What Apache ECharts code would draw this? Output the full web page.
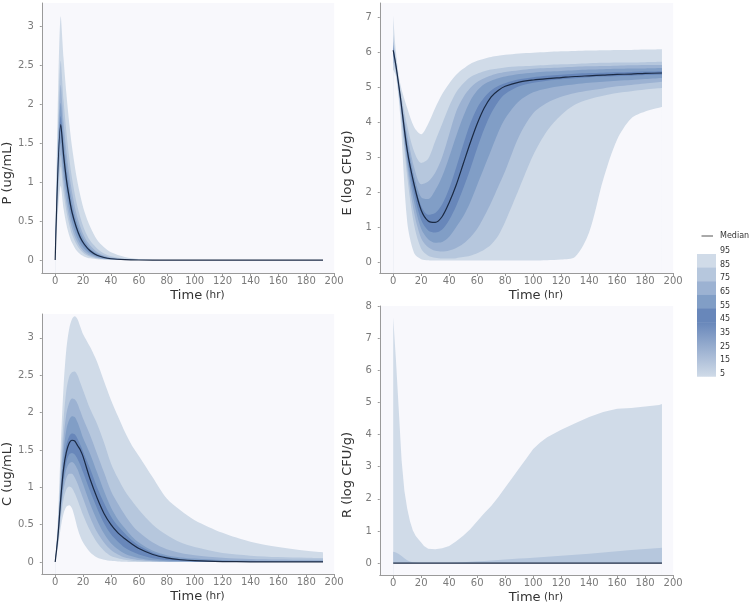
<!DOCTYPE html>
<html>
<head>
<meta charset="utf-8">
<script src="https://cdn.jsdelivr.net/npm/echarts@6/dist/echarts.min.js"></script>
<style>
  html, body { margin: 0; padding: 0; background: #fff; }
  #chart { width: 750px; height: 609px; }
</style>
</head>
<body>
<div id="chart"></div>
<script>
//************** Data: percentile bands per panel *****************/

// P (ug/mL)
const P_time = [0, 4, 6, 8, 10, 12, 15, 18, 21, 25, 30, 35, 40, 50, 60, 80, 120, 192];
const P_p95 = [0, 3.13, 2.59, 2.14, 1.77, 1.46, 1.10, 0.83, 0.62, 0.43, 0.26, 0.165, 0.10, 0.04, 0.015, 0.002, 0, 0];
const P_p85 = [0, 2.56, 2.05, 1.65, 1.32, 1.06, 0.76, 0.55, 0.39, 0.25, 0.15, 0.085, 0.049, 0.016, 0.005, 0, 0, 0];
const P_p75 = [0, 2.25, 1.78, 1.40, 1.11, 0.88, 0.61, 0.43, 0.30, 0.19, 0.105, 0.058, 0.032, 0.01, 0.003, 0, 0, 0];
const P_p65 = [0, 2.02, 1.58, 1.23, 0.97, 0.75, 0.52, 0.36, 0.25, 0.15, 0.083, 0.045, 0.024, 0.007, 0.002, 0, 0, 0];
const P_p55 = [0, 1.85, 1.44, 1.11, 0.86, 0.67, 0.46, 0.31, 0.21, 0.13, 0.068, 0.036, 0.019, 0.005, 0.001, 0, 0, 0];
const P_med = [0, 1.74, 1.35, 1.04, 0.81, 0.62, 0.43, 0.29, 0.20, 0.12, 0.062, 0.033, 0.017, 0.005, 0.001, 0, 0, 0];
const P_p45 = [0, 1.65, 1.27, 0.97, 0.75, 0.57, 0.39, 0.26, 0.175, 0.10, 0.053, 0.028, 0.014, 0.004, 0.001, 0, 0, 0];
const P_p35 = [0, 1.50, 1.13, 0.86, 0.65, 0.49, 0.32, 0.21, 0.14, 0.08, 0.039, 0.02, 0.01, 0.003, 0.001, 0, 0, 0];
const P_p25 = [0, 1.35, 1.00, 0.74, 0.55, 0.41, 0.26, 0.165, 0.105, 0.058, 0.027, 0.013, 0.006, 0.002, 0, 0, 0, 0];
const P_p15 = [0, 1.20, 0.87, 0.63, 0.46, 0.33, 0.21, 0.13, 0.079, 0.042, 0.019, 0.008, 0.004, 0.001, 0, 0, 0, 0];
const P_p05 = [0, 0.95, 0.66, 0.46, 0.32, 0.225, 0.13, 0.076, 0.044, 0.022, 0.009, 0.004, 0.002, 0, 0, 0, 0, 0];

// E (log CFU/g)
const E_time = [0, 2, 5, 10, 15, 20, 25, 30, 35, 40, 45, 50, 55, 60, 65, 70, 75, 80, 90, 100, 110, 120, 130, 140, 150, 160, 170, 180, 192];
const E_p95 = [7.05, 6.0, 5.1, 4.4, 3.85, 3.65, 3.95, 4.4, 4.8, 5.1, 5.35, 5.52, 5.66, 5.75, 5.81, 5.86, 5.89, 5.92, 5.96, 5.98, 6.0, 6.02, 6.03, 6.04, 6.05, 6.06, 6.06, 6.07, 6.08];
const E_p85 = [6.5, 5.75, 4.95, 3.9, 3.15, 2.83, 2.95, 3.45, 3.95, 4.45, 4.85, 5.1, 5.28, 5.38, 5.45, 5.5, 5.53, 5.56, 5.59, 5.61, 5.63, 5.65, 5.66, 5.68, 5.69, 5.7, 5.7, 5.71, 5.72];
const E_p75 = [6.3, 5.7, 4.85, 3.65, 2.7, 2.22, 2.3, 2.55, 3.0, 3.65, 4.3, 4.7, 4.97, 5.14, 5.25, 5.33, 5.39, 5.43, 5.48, 5.52, 5.54, 5.56, 5.58, 5.59, 5.6, 5.61, 5.62, 5.63, 5.63];
const E_p65 = [6.2, 5.65, 4.8, 3.48, 2.45, 1.85, 1.8, 2.05, 2.45, 3.0, 3.6, 4.15, 4.6, 4.9, 5.08, 5.18, 5.25, 5.3, 5.37, 5.41, 5.44, 5.46, 5.48, 5.5, 5.51, 5.52, 5.53, 5.53, 5.54];
const E_p55 = [6.12, 5.62, 4.78, 3.32, 2.3, 1.6, 1.35, 1.4, 1.65, 2.1, 2.7, 3.35, 3.95, 4.4, 4.7, 4.9, 5.03, 5.11, 5.22, 5.28, 5.32, 5.35, 5.38, 5.4, 5.41, 5.42, 5.43, 5.44, 5.45];
const E_med = [6.05, 5.6, 4.75, 3.2, 2.2, 1.48, 1.17, 1.13, 1.3, 1.7, 2.2, 2.8, 3.4, 3.95, 4.4, 4.72, 4.9, 5.02, 5.14, 5.2, 5.24, 5.27, 5.3, 5.32, 5.34, 5.36, 5.37, 5.39, 5.4];
const E_p45 = [6.0, 5.55, 4.7, 3.05, 1.95, 1.2, 0.9, 0.84, 0.93, 1.2, 1.6, 2.1, 2.65, 3.25, 3.8, 4.25, 4.58, 4.8, 5.02, 5.12, 5.18, 5.22, 5.25, 5.28, 5.3, 5.31, 5.32, 5.34, 5.35];
const E_p35 = [5.95, 5.5, 4.6, 2.9, 1.7, 0.95, 0.65, 0.55, 0.57, 0.72, 1.0, 1.3, 1.7, 2.2, 2.7, 3.2, 3.7, 4.1, 4.6, 4.85, 4.96, 5.03, 5.08, 5.12, 5.15, 5.18, 5.2, 5.23, 5.26];
const E_p25 = [5.85, 5.45, 4.5, 2.7, 1.4, 0.68, 0.42, 0.32, 0.3, 0.33, 0.4, 0.52, 0.7, 0.95, 1.3, 1.7, 2.15, 2.6, 3.6, 4.25, 4.55, 4.72, 4.83, 4.9, 4.96, 5.02, 5.06, 5.1, 5.15];
const E_p15 = [5.7, 5.4, 4.4, 2.45, 1.05, 0.38, 0.18, 0.12, 0.1, 0.1, 0.11, 0.14, 0.18, 0.25, 0.35, 0.5, 0.75, 1.15, 2.1, 3.05, 3.75, 4.2, 4.5, 4.65, 4.75, 4.83, 4.88, 4.93, 4.97];
const E_p05 = [5.5, 5.3, 4.2, 1.15, 0.25, 0.08, 0.05, 0.04, 0.04, 0.04, 0.04, 0.04, 0.04, 0.04, 0.04, 0.04, 0.04, 0.04, 0.04, 0.04, 0.05, 0.07, 0.15, 0.85, 2.35, 3.5, 4.1, 4.3, 4.43];

// C (ug/mL)
const C_time = [0, 2, 4, 6, 8, 10, 12, 14, 16, 18, 20, 25, 30, 35, 40, 45, 50, 55, 60, 70, 80, 90, 100, 120, 140, 160, 180, 192];
const C_p95 = [0, 0.6, 1.55, 2.35, 2.85, 3.12, 3.25, 3.29, 3.25, 3.15, 3.05, 2.88, 2.68, 2.42, 2.17, 1.95, 1.74, 1.56, 1.42, 1.13, 0.85, 0.69, 0.56, 0.39, 0.27, 0.2, 0.15, 0.13];
const C_p85 = [0, 0.5, 1.25, 1.9, 2.3, 2.48, 2.54, 2.55, 2.5, 2.4, 2.3, 2.05, 1.85, 1.6, 1.32, 1.12, 0.95, 0.82, 0.7, 0.5, 0.36, 0.26, 0.2, 0.12, 0.085, 0.065, 0.055, 0.05];
const C_p75 = [0, 0.45, 1.1, 1.65, 1.98, 2.13, 2.19, 2.18, 2.12, 2.02, 1.92, 1.7, 1.45, 1.2, 0.95, 0.78, 0.63, 0.5, 0.4, 0.26, 0.17, 0.12, 0.09, 0.055, 0.04, 0.033, 0.03, 0.03];
const C_p65 = [0, 0.4, 1.0, 1.48, 1.77, 1.9, 1.95, 1.94, 1.87, 1.77, 1.66, 1.45, 1.2, 0.95, 0.73, 0.57, 0.45, 0.34, 0.26, 0.15, 0.09, 0.06, 0.045, 0.025, 0.015, 0.01, 0.01, 0.01];
const C_p55 = [0, 0.37, 0.9, 1.32, 1.57, 1.68, 1.72, 1.71, 1.65, 1.57, 1.48, 1.25, 1.0, 0.79, 0.61, 0.48, 0.38, 0.29, 0.22, 0.125, 0.07, 0.04, 0.025, 0.01, 0.005, 0.003, 0.002, 0.002];
const C_med = [0, 0.35, 0.85, 1.25, 1.47, 1.59, 1.63, 1.62, 1.56, 1.5, 1.41, 1.11, 0.86, 0.65, 0.5, 0.39, 0.31, 0.24, 0.18, 0.1, 0.055, 0.03, 0.017, 0.006, 0.002, 0.001, 0, 0];
const C_p45 = [0, 0.32, 0.78, 1.13, 1.34, 1.44, 1.46, 1.44, 1.38, 1.3, 1.2, 0.95, 0.72, 0.52, 0.37, 0.27, 0.19, 0.14, 0.1, 0.05, 0.025, 0.013, 0.007, 0.002, 0, 0, 0, 0];
const C_p35 = [0, 0.3, 0.72, 1.05, 1.24, 1.32, 1.34, 1.31, 1.24, 1.14, 1.04, 0.78, 0.56, 0.38, 0.25, 0.17, 0.11, 0.075, 0.05, 0.022, 0.01, 0.005, 0.002, 0, 0, 0, 0, 0];
const C_p25 = [0, 0.28, 0.66, 0.96, 1.12, 1.18, 1.18, 1.13, 1.05, 0.95, 0.85, 0.6, 0.4, 0.26, 0.16, 0.1, 0.06, 0.04, 0.025, 0.01, 0.004, 0.002, 0, 0, 0, 0, 0, 0];
const C_p15 = [0, 0.25, 0.58, 0.84, 0.97, 1.01, 0.99, 0.92, 0.83, 0.73, 0.63, 0.42, 0.26, 0.15, 0.08, 0.05, 0.03, 0.017, 0.01, 0.004, 0.001, 0, 0, 0, 0, 0, 0, 0];
const C_p05 = [0, 0.2, 0.46, 0.65, 0.74, 0.76, 0.72, 0.6, 0.45, 0.34, 0.26, 0.13, 0.06, 0.03, 0.015, 0.007, 0.003, 0, 0, 0, 0, 0, 0, 0, 0, 0, 0, 0];

// R (log CFU/g) - everything at or below the 75th percentile sits on 0
const R_time = [0, 2, 4, 6, 8, 10, 12, 14, 16, 18, 20, 22, 25, 30, 35, 40, 45, 50, 55, 60, 65, 70, 75, 80, 85, 90, 95, 100, 105, 110, 120, 130, 140, 150, 160, 170, 180, 190, 192];
const R_p95 = [7.65, 6.3, 4.75, 3.2, 2.25, 1.7, 1.3, 1.02, 0.85, 0.74, 0.64, 0.53, 0.45, 0.43, 0.46, 0.53, 0.68, 0.85, 1.05, 1.3, 1.55, 1.78, 2.05, 2.35, 2.65, 2.95, 3.25, 3.55, 3.75, 3.92, 4.15, 4.35, 4.55, 4.7, 4.8, 4.83, 4.87, 4.92, 4.95];
const R_p85 = [0.35, 0.33, 0.28, 0.22, 0.15, 0.09, 0.05, 0.03, 0.02, 0.015, 0.01, 0.01, 0.01, 0.01, 0.012, 0.015, 0.02, 0.03, 0.04, 0.055, 0.065, 0.08, 0.095, 0.11, 0.125, 0.14, 0.155, 0.17, 0.185, 0.2, 0.23, 0.26, 0.29, 0.33, 0.37, 0.41, 0.44, 0.47, 0.48];
const R_low = [0, 0, 0, 0, 0, 0, 0, 0, 0, 0, 0, 0, 0, 0, 0, 0, 0, 0, 0, 0, 0, 0, 0, 0, 0, 0, 0, 0, 0, 0, 0, 0, 0, 0, 0, 0, 0, 0, 0];

// legend tick labels
const legendLabels = ['95', '85', '75', '65', '55', '45', '35', '25', '15', '5'];
const xTicks = [0, 20, 40, 60, 80, 100, 120, 140, 160, 180, 200];

///*********** Styles ***************///

const bandColors = ['#d0dbe8', '#b6c7dd', '#9cb2d2', '#819ec6', '#6887ba'];
const plotBg = '#f8f8fc';
const medianColor = '#1b2a44';
const axisColor = '#9a9a9a';
const labelColor = '#7a7a7a';
const font = 'DejaVu Sans';

const panels = [
  { name: 'P (ug/mL)', time: P_time, med: P_med, smooth: 0.3,
    pct: [P_p05, P_p15, P_p25, P_p35, P_p45, P_p55, P_p65, P_p75, P_p85, P_p95],
    grid: { left: 40.76, top: 3, width: 293.4, height: 270 },
    yMin: -0.166, yMax: 3.3, yTicks: [0, 0.5, 1, 1.5, 2, 2.5, 3], namePad: 70 },
  { name: 'E (log CFU/g)', time: E_time, med: E_med, smooth: 0.3,
    pct: [E_p05, E_p15, E_p25, E_p35, E_p45, E_p55, E_p65, E_p75, E_p85, E_p95],
    grid: { left: 379.76, top: 3, width: 293.4, height: 270 },
    yMin: -0.314, yMax: 7.4, yTicks: [0, 1, 2, 3, 4, 5, 6, 7], namePad: 70 },
  { name: 'C (ug/mL)', time: C_time, med: C_med, smooth: 0.3,
    pct: [C_p05, C_p15, C_p25, C_p35, C_p45, C_p55, C_p65, C_p75, C_p85, C_p95],
    grid: { left: 40.76, top: 314, width: 293.4, height: 260 },
    yMin: -0.161, yMax: 3.32, yTicks: [0, 0.5, 1, 1.5, 2, 2.5, 3], namePad: 60 },
  { name: 'R (log CFU/g)', time: R_time, med: R_low, smooth: false,
    pct: [R_low, R_low, R_low, R_low, R_low, R_low, R_low, R_low, R_p85, R_p95],
    grid: { left: 379.76, top: 306, width: 293.4, height: 269 },
    yMin: -0.37, yMax: 8, yTicks: [0, 1, 2, 3, 4, 5, 6, 7, 8], namePad: 69 }
];

///*********** Build options ***************///

// percentile curves are layered top-down, each filled to the bottom of the plot;
// index into pct (0 = p05 ... 9 = p95) and the colour each one paints below itself
const layerOrder = [9, 8, 7, 6, 5, 4, 3, 2, 1, 0];
const layerColor = [bandColors[0], bandColors[1], bandColors[2], bandColors[3], bandColors[4],
                    bandColors[3], bandColors[2], bandColors[1], bandColors[0], plotBg];

const grids = [], xAxes = [], yAxes = [], series = [];

panels.forEach(function (p, i) {
  grids.push(Object.assign({ show: true, backgroundColor: plotBg, borderWidth: 0 }, p.grid));

  xAxes.push({
    type: 'value', gridIndex: i, min: -9.6, max: 200, z: 10,
    axisLine: { show: true, onZero: false, lineStyle: { color: axisColor } },
    axisTick: { show: true, customValues: xTicks, length: 3, lineStyle: { color: axisColor } },
    axisLabel: { customValues: xTicks, color: labelColor, fontSize: 10, fontFamily: font, margin: 3 },
    splitLine: { show: false },
    name: '{a|Time} {b|(hr)}', nameLocation: 'middle', nameGap: 16,
    nameTextStyle: {
      padding: [0, 0, 0, 19],
      rich: {
        a: { fontSize: 13, color: '#333', fontFamily: font },
        b: { fontSize: 10.5, color: '#333', fontFamily: font }
      }
    }
  });

  yAxes.push({
    type: 'value', gridIndex: i, min: p.yMin, max: p.yMax, z: 10,
    axisLine: { show: true, onZero: false, lineStyle: { color: axisColor } },
    axisTick: { show: true, customValues: p.yTicks, length: 2, lineStyle: { color: axisColor } },
    axisLabel: { customValues: p.yTicks, color: labelColor, fontSize: 10, fontFamily: font, margin: 8 },
    splitLine: { show: false },
    name: p.name, nameLocation: 'middle', nameGap: 26,
    nameTextStyle: { fontSize: 13, color: '#333', fontFamily: font, padding: [0, p.namePad, 0, 0] }
  });

  layerOrder.forEach(function (idx, k) {
    const vals = p.pct[idx];
    series.push({
      type: 'line', xAxisIndex: i, yAxisIndex: i, silent: true,
      symbol: 'none', smooth: p.smooth, lineStyle: { width: 0 },
      areaStyle: { color: layerColor[k], opacity: 1, origin: 'start' },
      data: p.time.map(function (t, j) { return [t, vals[j]]; })
    });
  });

  series.push({
    type: 'line', xAxisIndex: i, yAxisIndex: i, silent: true, symbol: 'none',
    smooth: p.smooth, lineStyle: { color: medianColor, width: 1.2 },
    data: p.time.map(function (t, j) { return [t, p.med[j]]; })
  });
});

///*********** Legend (drawn) ***************///

const legendX = 697, legendTop = 254, segH = 13.65, legendW = 19;
const legendItems = [
  { type: 'line', shape: { x1: 701.5, y1: 236, x2: 713, y2: 236 }, style: { stroke: '#555', lineWidth: 1 } },
  { type: 'text', style: { x: 720, y: 236, text: 'Median', fill: '#333', fontSize: 8, fontFamily: font, verticalAlign: 'middle' } }
];
for (let k = 0; k < 5; k++) {
  legendItems.push({
    type: 'rect', shape: { x: legendX, y: legendTop + segH * k, width: legendW, height: segH + 0.5 },
    style: { fill: bandColors[k] }
  });
}
legendItems.push({
  type: 'rect', shape: { x: legendX, y: legendTop + segH * 5, width: legendW, height: segH * 4 },
  style: {
    fill: new echarts.graphic.LinearGradient(0, 0, 0, 1, [
      { offset: 0, color: bandColors[4] },
      { offset: 1, color: bandColors[0] }
    ])
  }
});
legendLabels.forEach(function (lab, k) {
  legendItems.push({
    type: 'text',
    style: { x: 720, y: legendTop - 3 + segH * k, text: lab, fill: '#333', fontSize: 8, fontFamily: font, verticalAlign: 'middle' }
  });
});

var chartDom = document.getElementById('chart');
var myChart = echarts.init(chartDom);
var option = {
  animation: false,
  backgroundColor: '#ffffff',
  grid: grids,
  xAxis: xAxes,
  yAxis: yAxes,
  series: series,
  graphic: legendItems
};
option && myChart.setOption(option);
</script>
</body>
</html>
